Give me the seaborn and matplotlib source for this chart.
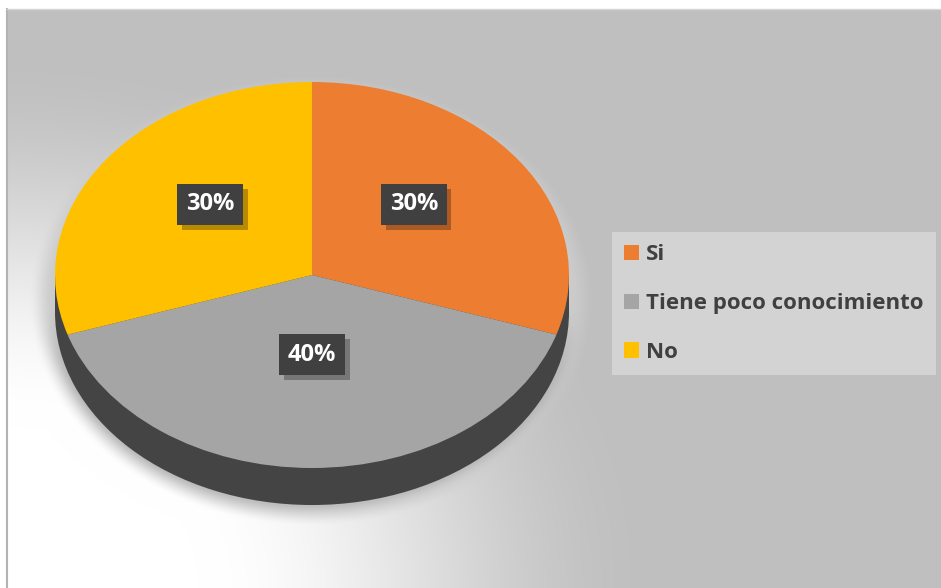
import numpy as np
import matplotlib
matplotlib.use("Agg")
import matplotlib.pyplot as plt
import matplotlib.patheffects as pe
from matplotlib.patches import Rectangle, Patch
import seaborn as sns

# Survey answers and their shares (%)
categories = ["Si", "Tiene poco conocimiento", "No"]
shares = [30, 40, 30]
slice_colors = ["#ED7D31", "#A5A5A5", "#FFC000"]

sns.set_theme(style="white")
plt.rcParams["font.family"] = ["Open Sans", "DejaVu Sans"]
palette = sns.color_palette(slice_colors)

W, H = 941, 588
fig = plt.figure(figsize=(W / 100, H / 100), dpi=100)
fig.patch.set_facecolor("white")


def smooth(a, b, v):
    t = np.clip((v - a) / (b - a), 0, 1)
    return t * t * (3 - 2 * t)


# ---- chart-area background: grey with a light glow in the lower left ----
x0, y0 = 7, 9
bg = fig.add_axes([x0 / W, 0, (W - x0) / W, (H - y0) / H])
xs = np.arange(x0, W) + 0.5
ys = np.arange(y0, H) + 0.5
X, Y = np.meshgrid(xs, ys)
d = np.hypot(X / 660, (H - Y) / 540)
glow = 1 - smooth(0.3, 1.0, d)
base = 0.75 + 0.25 * glow
# soft halo cast by the pie
r = np.hypot((X - 312) / 278, (Y - 300) / 222)
m = 1 - smooth(0.93, 1.02, r)
img = base * (1 - m) + 0.80 * m
# contact shadow just under the rim
r2 = np.hypot((X - 312) / 257, (Y - 309) / 193)
ring = 0.08 * np.exp(-((r2 - 1.0) / 0.035) ** 2) * (r2 > 1) * smooth(300, 380, Y)
img = np.clip(img - ring, 0, 1)
bg.imshow(np.dstack([img] * 3), extent=(x0, W, H, y0), aspect="auto",
          interpolation="bilinear")
bg.set_xlim(x0, W)
bg.set_ylim(H, y0)
bg.set_xticks([])
bg.set_yticks([])
for s in ["right", "bottom"]:
    bg.spines[s].set_visible(False)
bg.spines["left"].set_color("#b3b3b3")
bg.spines["left"].set_linewidth(1.5)
bg.spines["top"].set_color("#d6d6d6")
bg.spines["top"].set_linewidth(1.0)

# ---- 3D-looking pie: dark rim underneath, coloured top face ----
cx, a = 312, 257          # centre x and horizontal semi-axis (px)
top, b = 82, 193          # top edge and vertical semi-axis (px)
depth = 37                # rim thickness (px)
cy = top + b
dd = depth / b
ax = fig.add_axes([(cx - a) / W, 1 - (cy + b + depth) / H, 2 * a / W, (2 * b + depth) / H])
ax.patch.set_visible(False)

rim = "#444444"
ax.pie([1], colors=[rim], radius=1, center=(0, -dd), wedgeprops=dict(linewidth=0))
ax.add_patch(Rectangle((-1, -dd), 2, dd, facecolor=rim, edgecolor="none"))

wedges, texts, autotexts = ax.pie(
    shares, colors=palette, startangle=90, counterclock=False,
    autopct=lambda p: f"{p:.0f}%", pctdistance=0.49,
    wedgeprops=dict(linewidth=0),
)
ax.set_aspect("auto")
ax.set_xlim(-1, 1)
ax.set_ylim(-1 - dd, 1)
ax.axis("off")

for t in autotexts:
    t.set_color("white")
    t.set_fontweight("bold")
    t.set_fontsize(17)
    t.set_y(t.get_position()[1] + 15 / b)
    t.set_bbox(dict(boxstyle="square,pad=0.36", facecolor="#404040", edgecolor="none"))
    t.get_bbox_patch().set_path_effects([
        pe.SimplePatchShadow(offset=(3.5, -3.5), shadow_rgbFace="black", alpha=0.28),
        pe.Normal(),
    ])

# ---- legend ----
handles = [Patch(facecolor=c, edgecolor="none") for c in palette]
leg = fig.legend(
    handles, categories, loc="center left",
    bbox_to_anchor=(612 / W, 1 - 303.5 / H), borderaxespad=0,
    frameon=True, fancybox=False,
    prop=dict(family=["Open Sans", "DejaVu Sans"], weight="bold", size=16),
    labelcolor="#404040",
    handlelength=0.68, handleheight=0.68, handletextpad=0.3,
    labelspacing=1.25, borderpad=0.55,
)
frame = leg.get_frame()
frame.set_facecolor("#d3d3d3")
frame.set_edgecolor("none")
frame.set_alpha(1)

fig.savefig("out.png", dpi=100)
